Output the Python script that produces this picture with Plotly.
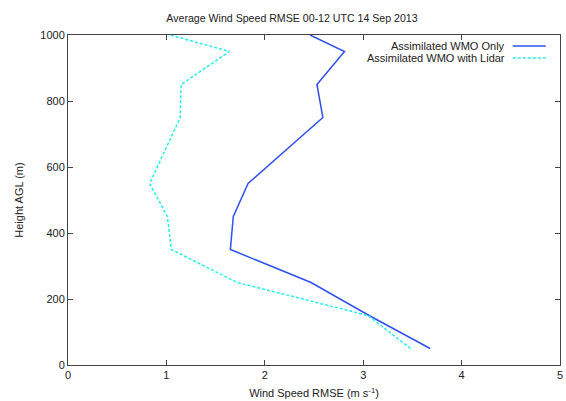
import plotly.graph_objects as go

height_wmo = [50, 150, 250, 350, 450, 550, 750, 850, 950, 1000]
rmse_wmo = [3.68, 3.06, 2.47, 1.65, 1.68, 1.83, 2.59, 2.53, 2.81, 2.46]
height_lidar = [50, 150, 250, 350, 450, 550, 750, 850, 950, 1000]
rmse_lidar = [3.48, 3.05, 1.72, 1.05, 1.01, 0.83, 1.14, 1.15, 1.64, 1.04]
names = ["Assimilated WMO Only", "Assimilated WMO with Lidar"]
colors = ["#3050f0", "#22f0f0"]
dashes = ["solid", "3px,2px"]

fig = go.Figure()
fig.add_trace(go.Scatter(x=rmse_wmo, y=height_wmo, mode="lines", name=names[0],
                         line=dict(color=colors[0], width=1.5, dash=dashes[0]), showlegend=False))
fig.add_trace(go.Scatter(x=rmse_lidar, y=height_lidar, mode="lines", name=names[1],
                         line=dict(color=colors[1], width=1.5, dash=dashes[1]), showlegend=False))

font = dict(family="Liberation Sans, Arial, sans-serif", size=11, color="#222")
axis_common = dict(showgrid=False, zeroline=False, showline=True, linecolor="#444", linewidth=1,
                   mirror="ticks", ticks="inside", ticklen=5, tickcolor="#444",
                   ticklabeloverflow="allow",
                   tickfont=dict(family="Liberation Sans, Arial, sans-serif", size=11, color="#222"))
fig.update_xaxes(range=[0, 5], dtick=1, title=dict(text="Wind Speed RMSE (m s<sup>-1</sup>)", standoff=9,
                 font=font), **axis_common)
fig.update_yaxes(range=[0, 1000], dtick=200, title=dict(text="Height AGL (m)", standoff=14, font=font),
                 **axis_common)

# legend drawn gnuplot-style: text right-aligned, sample line on the right
for i, (nm, c, d) in enumerate(zip(names, colors, dashes)):
    yp = 1 - (11 + 12 * i) / 330
    fig.add_annotation(x=0.893, y=yp, xref="paper", yref="paper", text=nm, showarrow=False,
                       xanchor="right", yanchor="middle", font=font)
    fig.add_shape(type="line", xref="paper", yref="paper", x0=0.904, x1=0.971, y0=yp, y1=yp,
                  line=dict(color=c, width=1.5, dash=d))

fig.update_layout(
    width=566, height=401,
    margin=dict(l=68, r=3, t=35, b=36),
    paper_bgcolor="white", plot_bgcolor="white",
    title=dict(text="Average Wind Speed RMSE 00-12 UTC 14 Sep 2013", x=292 / 566, xanchor="center",
               y=1 - 18 / 401, yanchor="middle",
               font=dict(family="Liberation Sans, Arial, sans-serif", size=10.6, color="#222")),
    font=font,
)
fig.write_html("out.html")
